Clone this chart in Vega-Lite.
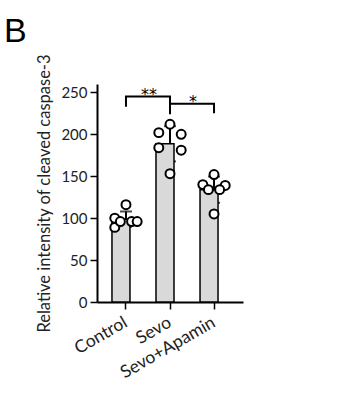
{
  "$schema": "https://vega.github.io/schema/vega-lite/v6.json",
  "width": 146,
  "height": 218,
  "autosize": "none",
  "padding": {"left": 97, "top": 84, "right": 97, "bottom": 100},
  "background": "white",
  "title": {"text": "B", "anchor": "start", "frame": "group", "fontSize": 34, "font": "Liberation Sans", "fontWeight": "normal", "color": "#000", "dx": -93, "offset": 2},
  "config": {"view": {"stroke": null}, "font": "Lato"},
  "datasets": {
    "pts": [
      {"group": "Control", "slot": "s3", "value": 116},
      {"group": "Control", "slot": "s1", "value": 100},
      {"group": "Control", "slot": "s1", "value": 89},
      {"group": "Control", "slot": "s2", "value": 96},
      {"group": "Control", "slot": "s4", "value": 96},
      {"group": "Control", "slot": "s5", "value": 96},
      {"group": "Sevo", "slot": "s3", "value": 212},
      {"group": "Sevo", "slot": "s1", "value": 202},
      {"group": "Sevo", "slot": "s5", "value": 200},
      {"group": "Sevo", "slot": "s1", "value": 184},
      {"group": "Sevo", "slot": "s5", "value": 181},
      {"group": "Sevo", "slot": "s3", "value": 153},
      {"group": "Sevo+Apamin", "slot": "s3", "value": 152},
      {"group": "Sevo+Apamin", "slot": "s1", "value": 140},
      {"group": "Sevo+Apamin", "slot": "s5", "value": 139},
      {"group": "Sevo+Apamin", "slot": "s2", "value": 134},
      {"group": "Sevo+Apamin", "slot": "s4", "value": 134},
      {"group": "Sevo+Apamin", "slot": "s3", "value": 105}
    ],
    "brackets": [
      {"id": "b1", "ord": 1, "group": "Control", "value": 233},
      {"id": "b1", "ord": 2, "group": "Control", "value": 245},
      {"id": "b1", "ord": 3, "group": "Sevo", "value": 245},
      {"id": "b1", "ord": 4, "group": "Sevo", "value": 224},
      {"id": "b2", "ord": 1, "group": "Sevo", "value": 236.5},
      {"id": "b2", "ord": 2, "group": "Sevo+Apamin", "value": 236.5},
      {"id": "b2", "ord": 3, "group": "Sevo+Apamin", "value": 225}
    ],
    "stars": [
      {"group": "Sevo", "label": "**", "value": 247},
      {"group": "Sevo+Apamin", "label": "*", "value": 238}
    ]
  },
  "encoding": {
    "x": {
      "field": "group", "type": "nominal", "sort": ["Control", "Sevo", "Sevo+Apamin"],
      "scale": {"paddingInner": 0.364, "paddingOuter": 0.34},
      "axis": {"title": null, "labelAngle": -30, "labelAlign": "right", "labelBaseline": "middle", "labelFontSize": 17.5, "labelColor": "#222", "labelFont": "Lato", "domainColor": "#000", "domainWidth": 2, "tickColor": "#000", "tickWidth": 1.5, "tickSize": 7, "bandPosition": 0.5, "labelPadding": 12}
    }
  },
  "layer": [
    {
      "data": {"name": "pts"},
      "mark": {"type": "errorbar", "extent": "stdev", "ticks": {"size": 12, "color": "#000", "thickness": 2}, "rule": {"color": "#000", "strokeWidth": 2}},
      "encoding": {
        "y": {"field": "value", "type": "quantitative", "scale": {"domain": [0, 250]},
          "axis": {"title": "Relative intensity  of cleaved caspase-3", "values": [0, 50, 100, 150, 200, 250], "titleFontSize": 16.5, "titleFontWeight": "normal", "titleColor": "#222", "titleFont": "Lato", "labelFontSize": 15, "labelColor": "#222", "labelFont": "Lato", "domainColor": "#000", "domainWidth": 2, "tickColor": "#000", "tickWidth": 1.5, "tickSize": 7, "labelPadding": 3, "grid": false, "titlePadding": 8}}
      }
    },
    {
      "data": {"name": "pts"},
      "mark": {"type": "bar", "fill": "#d9d9d9", "stroke": "#000", "strokeWidth": 1.5},
      "encoding": {"y": {"aggregate": "mean", "field": "value", "type": "quantitative"}}
    },
    {
      "data": {"name": "pts"},
      "mark": {"type": "point", "shape": "circle", "filled": false, "fill": "white", "fillOpacity": 1, "stroke": "#000", "strokeWidth": 2, "size": 80, "opacity": 1},
      "encoding": {
        "y": {"field": "value", "type": "quantitative"},
        "xOffset": {"field": "slot", "type": "nominal", "sort": ["s1", "s2", "s3", "s4", "s5"], "scale": {"domain": ["s1", "s2", "s3", "s4", "s5"]}}
      }
    },
    {
      "data": {"name": "brackets"},
      "mark": {"type": "line", "color": "#000", "strokeWidth": 2},
      "encoding": {
        "y": {"field": "value", "type": "quantitative"},
        "detail": {"field": "id"},
        "order": {"field": "ord"}
      }
    },
    {
      "data": {"name": "stars"},
      "mark": {"type": "text", "fontSize": 16, "font": "DejaVu Sans", "dx": -21, "baseline": "middle", "color": "#000"},
      "encoding": {
        "y": {"field": "value", "type": "quantitative"},
        "text": {"field": "label"}
      }
    }
  ]
}
